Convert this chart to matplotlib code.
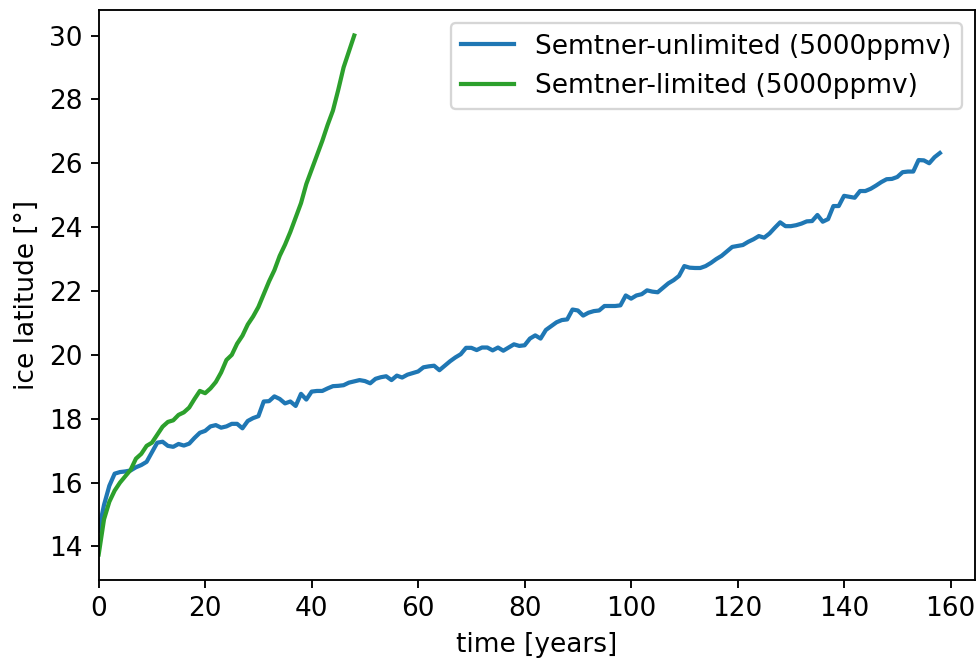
import matplotlib
matplotlib.use("Agg")
import matplotlib.pyplot as plt
import numpy as np

years_unlimited = list(range(0, 159))
lat_unlimited = [
    14.5, 15.3, 15.9, 16.28, 16.33, 16.35, 16.38, 16.48, 16.55, 16.65,
    16.95, 17.25, 17.28, 17.15, 17.12, 17.21, 17.16, 17.22, 17.4, 17.56,
    17.62, 17.76, 17.8, 17.72, 17.76, 17.84, 17.84, 17.7, 17.93, 18.02,
    18.08, 18.54, 18.55, 18.7, 18.62, 18.48, 18.54, 18.4, 18.78, 18.6,
    18.85, 18.87, 18.87, 18.95, 19.02, 19.03, 19.05, 19.13, 19.17, 19.21,
    19.18, 19.11, 19.25, 19.3, 19.33, 19.21, 19.35, 19.29, 19.38, 19.43,
    19.48, 19.61, 19.64, 19.66, 19.52, 19.66, 19.8, 19.92, 20.02, 20.22,
    20.22, 20.15, 20.23, 20.23, 20.14, 20.23, 20.13, 20.23, 20.33, 20.28,
    20.3, 20.51, 20.61, 20.51, 20.78, 20.9, 21.02, 21.09, 21.11, 21.42,
    21.39, 21.23, 21.32, 21.37, 21.39, 21.53, 21.53, 21.53, 21.55, 21.86,
    21.76, 21.86, 21.9, 22.02, 21.98, 21.96, 22.1, 22.24, 22.34, 22.47,
    22.78, 22.73, 22.72, 22.72, 22.78, 22.88, 23.0, 23.1, 23.24, 23.38,
    23.41, 23.44, 23.54, 23.62, 23.72, 23.67, 23.8, 23.98, 24.15, 24.03,
    24.03, 24.06, 24.11, 24.18, 24.19, 24.38, 24.17, 24.25, 24.66, 24.66,
    24.98, 24.95, 24.92, 25.13, 25.13, 25.2, 25.3, 25.41, 25.5, 25.51,
    25.57, 25.72, 25.74, 25.74, 26.1, 26.09, 26.0, 26.19, 26.32,
]

years_limited = list(range(0, 49))
lat_limited = [
    13.75, 14.85, 15.4, 15.75, 16.0, 16.2, 16.4, 16.75, 16.9, 17.15,
    17.25, 17.5, 17.75, 17.9, 17.95, 18.12, 18.2, 18.35, 18.62, 18.87,
    18.8, 18.95, 19.15, 19.45, 19.84, 20.0, 20.35, 20.6, 20.95, 21.2,
    21.5, 21.9, 22.3, 22.65, 23.1, 23.45, 23.85, 24.3, 24.75, 25.35,
    25.8, 26.25, 26.7, 27.2, 27.65, 28.3, 29.0, 29.5, 30.0,
]

labels = ["Semtner-unlimited (5000ppmv)", "Semtner-limited (5000ppmv)"]

plt.rcParams["font.size"] = 11.3

fig = plt.figure(figsize=(980 / 168, 664 / 168), dpi=168)
ax = fig.add_axes([0.1007, 0.1265, 0.8942, 0.8585])
ax.plot(years_unlimited, lat_unlimited, color="#1f77b4", lw=1.8, label=labels[0])
ax.plot(years_limited, lat_limited, color="#2ca02c", lw=1.8, label=labels[1])
ax.set_xlim(0, 164.6)
ax.set_ylim(12.95, 30.8)
ax.set_xticks(np.arange(0, 161, 20))
ax.set_yticks(np.arange(14, 31, 2))
ax.set_xlabel("time [years]")
ax.set_ylabel("ice latitude [°]")
ax.legend(loc="upper right")
fig.savefig("out.png", dpi=168)
